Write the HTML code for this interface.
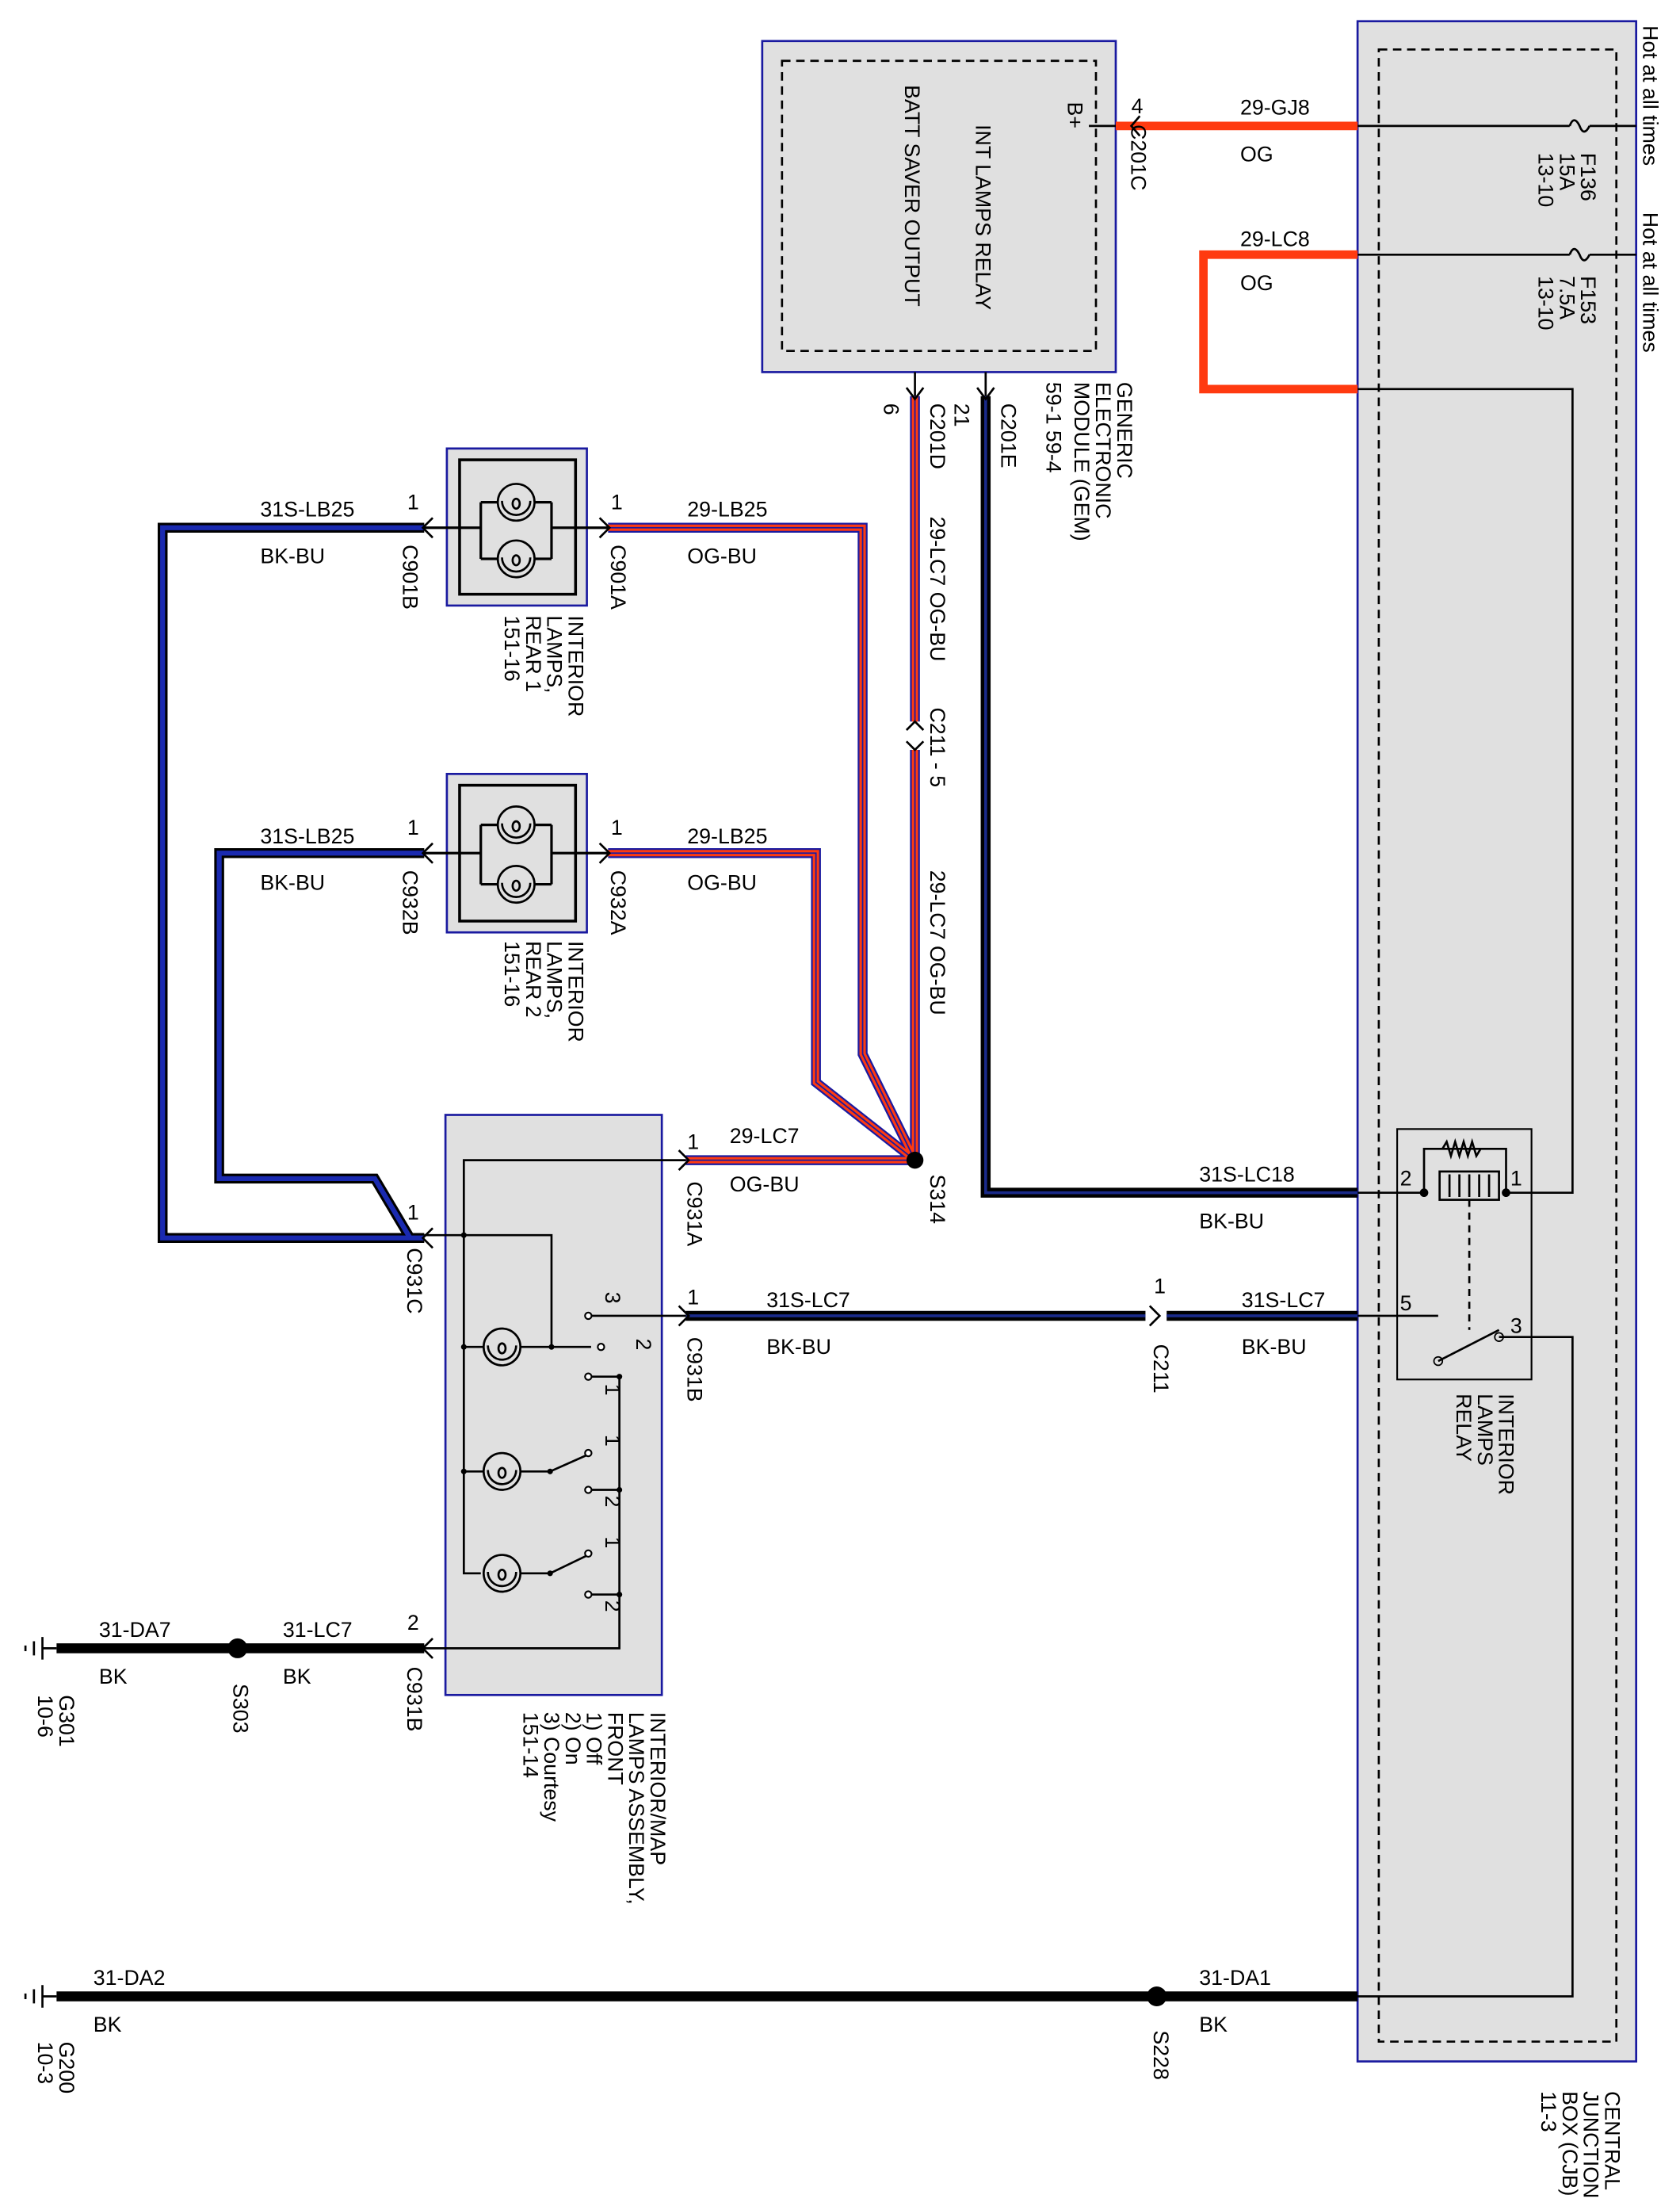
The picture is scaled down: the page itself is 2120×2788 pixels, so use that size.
<!DOCTYPE html>
<html><head><meta charset="utf-8"><style>
html,body{margin:0;padding:0;background:#fff}
svg{display:block}
text{font-family:"Liberation Sans",sans-serif;font-size:15px;fill:#000}
</style></head><body>
<svg width="2120" height="2788" viewBox="0 0 1188 1562" preserveAspectRatio="none" xmlns="http://www.w3.org/2000/svg">
<defs>
<g id="bulb" fill="none" stroke="#000" stroke-width="1.5">
<circle cx="0" cy="0" r="13"/>
<path d="M-10 -1 A10 10 0 0 0 10 -1"/>
<ellipse cx="0" cy="1" rx="2.5" ry="3.5"/>
</g>
</defs>
<!-- CJB -->
<rect x="960" y="15" width="197" height="1442" fill="#e0e0e0" stroke="#1a1aa0" stroke-width="1.5"/>
<rect x="975" y="35" width="168" height="1408" fill="none" stroke="#000" stroke-width="1.5" stroke-dasharray="6,4"/>
<!-- GEM -->
<rect x="539" y="29" width="250" height="234" fill="#e0e0e0" stroke="#1a1aa0" stroke-width="1.5"/>
<rect x="553" y="43" width="222" height="205" fill="none" stroke="#000" stroke-width="1.5" stroke-dasharray="6,4"/>
<text transform="translate(690,88) rotate(90)" font-size="16">INT LAMPS RELAY</text>
<text transform="translate(640,60) rotate(90)" font-size="16">BATT SAVER OUTPUT</text>
<text transform="translate(755,72) rotate(90)">B+</text>

<!-- thin lines inside CJB -->
<g stroke="#000" stroke-width="1.5" fill="none">
<path d="M960 89 H1110 M1124 89 H1157"/>
<path d="M1110 89 q3 -8 7 0 q3 8 7 0"/>
<path d="M960 180 H1110 M1124 180 H1157"/>
<path d="M1110 180 q3 -8 7 0 q3 8 7 0"/>
<path d="M960 275 H1112 V843 H1065"/>
<path d="M960 1411 H1112 V945 H1072"/>
<path d="M770 89 H800 M697 263 V280 M647 263 V280"/>
</g>
<!-- fuse labels -->
<text transform="translate(1118,108) rotate(90)">F136</text>
<text transform="translate(1103,108) rotate(90)">15A</text>
<text transform="translate(1088,108) rotate(90)">13-10</text>
<text transform="translate(1118,195) rotate(90)">F153</text>
<text transform="translate(1103,195) rotate(90)">7.5A</text>
<text transform="translate(1088,195) rotate(90)">13-10</text>
<text transform="translate(1162,18) rotate(90)">Hot at all times</text>
<text transform="translate(1162,150) rotate(90)">Hot at all times</text>
<text transform="translate(1135,1478) rotate(90)">CENTRAL</text>
<text transform="translate(1120,1478) rotate(90)">JUNCTION</text>
<text transform="translate(1105,1478) rotate(90)">BOX (CJB)</text>
<text transform="translate(1090,1478) rotate(90)">11-3</text>

<!-- Relay -->
<rect x="988" y="798" width="95" height="177" fill="none" stroke="#000" stroke-width="1.2"/>
<g stroke="#000" stroke-width="1.5" fill="none">
<path d="M960 843 H1007 M1007 843 V812 H1065 V843"/>
<path d="M1020 812 l3 -5 l3 10 l3 -10 l3 10 l3 -10 l3 10 l3 -10 l3 10 l3 -5"/>
<rect x="1018" y="828" width="42" height="20"/>
<path d="M1025 830 V846 M1032 830 V846 M1039 830 V846 M1046 830 V846 M1053 830 V846"/>
<path d="M1039 848 V940" stroke-dasharray="5,4"/>
<path d="M960 930 H1017 M1017 962 L1060 940 M1060 945 H1072"/>
</g>
<circle cx="1007" cy="843" r="3"/><circle cx="1065" cy="843" r="3"/>
<circle cx="1017" cy="962" r="3" fill="none" stroke="#000"/><circle cx="1060" cy="945" r="3" fill="none" stroke="#000"/>
<text x="990" y="838">2</text><text x="1068" y="838">1</text><text x="990" y="926">5</text><text x="1068" y="942">3</text>
<text transform="translate(1060,985) rotate(90)">INTERIOR</text>
<text transform="translate(1045,985) rotate(90)">LAMPS</text>
<text transform="translate(1030,985) rotate(90)">RELAY</text>

<!-- wires -->
<g fill="none" stroke-linejoin="miter">
<path d="M789 89 H960" stroke="#ff3a10" stroke-width="6"/>
<path d="M960 180 H851 V275 H960" stroke="#ff3a10" stroke-width="6"/>
<path d="M697 280 V843 H960" stroke="#000" stroke-width="7"/>
<path d="M697 280 V843 H960" stroke="#1a2a8a" stroke-width="2"/>
<path d="M647 280 V510 M647 530 V820 M430 373 H610 V745 L647 820 M430 603 H577 V765 L647 820 M485 820 H647" stroke="#1a1aa0" stroke-width="7"/>
<path d="M647 280 V510 M647 530 V820 M430 373 H610 V745 L647 820 M430 603 H577 V765 L647 820 M485 820 H647" stroke="#ff3a10" stroke-width="4.5"/>
<path d="M647 280 V510 M647 530 V820 M430 373 H610 V745 L647 820 M430 603 H577 V765 L647 820 M485 820 H647" stroke="#1a1aa0" stroke-width="1"/>
<path d="M300 373 H115 V875 H300 M300 603 H155 V833 H265 L290 875" stroke="#000" stroke-width="7"/>
<path d="M300 373 H115 V875 H300 M300 603 H155 V833 H265 L290 875" stroke="#1a2ab0" stroke-width="3.5"/>
<path d="M485 930 H810 M825 930 H960" stroke="#000" stroke-width="7"/>
<path d="M485 930 H810 M825 930 H960" stroke="#1a2a8a" stroke-width="2"/>
<path d="M300 1165 H40 M40 1411 H960" stroke="#000" stroke-width="7"/>
</g>
<circle cx="647" cy="820" r="6"/>
<circle cx="168" cy="1165" r="7"/>
<circle cx="818" cy="1411" r="7"/>
<g stroke="#000" stroke-width="1.5"><path d="M30 1157 V1173 M24 1160 V1170 M18 1163 V1167 M30 1165 H40"/>
<path d="M30 1403 V1419 M24 1406 V1416 M18 1409 V1413 M30 1411 H40"/></g>

<!-- arrows -->
<g stroke="#000" stroke-width="1.5" fill="none">
<path d="M806 82 L800 89 L806 96"/>
<path d="M641 274 L647 282 L653 274 M691 274 L697 282 L703 274"/>
<path d="M641 516 L647 510 L653 516 M641 524 L647 530 L653 524"/>
<path d="M424 366 L431 373 L424 380 M424 596 L431 603 L424 610"/>
<path d="M306 366 L299 373 L306 380 M306 596 L299 603 L306 610"/>
<path d="M480 813 L487 820 L480 827 M480 923 L487 930 L480 937"/>
<path d="M306 868 L299 875 L306 882 M306 1158 L299 1165 L306 1172"/>
<path d="M813 923 L820 930 L813 937"/>
</g>

<!-- lamp boxes -->
<rect x="316" y="317" width="99" height="111" fill="#e0e0e0" stroke="#1a1aa0" stroke-width="1.5"/>
<rect x="325" y="325" width="82" height="95" fill="none" stroke="#000" stroke-width="2"/>
<rect x="316" y="547" width="99" height="112" fill="#e0e0e0" stroke="#1a1aa0" stroke-width="1.5"/>
<rect x="325" y="555" width="82" height="96" fill="none" stroke="#000" stroke-width="2"/>
<g stroke="#000" stroke-width="1.8" fill="none">
<path d="M300 373 H340 M340 355 V395 M390 355 V395 M390 373 H430 M340 355 H390 M340 395 H390"/>
<path d="M300 603 H340 M340 583 V625 M390 583 V625 M390 603 H430 M340 583 H390 M340 625 H390"/>
</g>
<g fill="#e0e0e0"><circle cx="365" cy="355" r="13"/><circle cx="365" cy="395" r="13"/><circle cx="365" cy="583" r="13"/><circle cx="365" cy="625" r="13"/></g>
<use href="#bulb" x="365" y="355"/><use href="#bulb" x="365" y="395"/>
<use href="#bulb" x="365" y="583"/><use href="#bulb" x="365" y="625"/>

<!-- front assembly -->
<rect x="315" y="788" width="153" height="410" fill="#e0e0e0" stroke="#1a1aa0" stroke-width="1.5"/>
<g stroke="#000" stroke-width="1.5" fill="none">
<path d="M485 820 H328 V1112 H340 M300 873 H390 V952 M328 952 H342 M368 952 H418 M328 1040 H342 M368 1040 H389 L416 1028 M368 1112 H389 L416 1099"/>
<path d="M418 930 H485 M418 973 H438 V1165 H300 M418 1053 H438 M418 1127 H438"/>
</g>
<g><circle cx="328" cy="952" r="2"/><circle cx="328" cy="1040" r="2"/><circle cx="390" cy="952" r="2"/><circle cx="389" cy="1040" r="2"/><circle cx="389" cy="1112" r="2"/><circle cx="438" cy="973" r="2"/><circle cx="438" cy="1053" r="2"/><circle cx="438" cy="1127" r="2"/><circle cx="328" cy="873" r="2"/></g>
<g fill="#e0e0e0"><circle cx="355" cy="952" r="13"/><circle cx="355" cy="1040" r="13"/><circle cx="355" cy="1112" r="13"/></g>
<use href="#bulb" x="355" y="952"/><use href="#bulb" x="355" y="1040"/><use href="#bulb" x="355" y="1112"/>
<g fill="#fff" stroke="#000" stroke-width="1.2"><circle cx="416" cy="930" r="2.3"/><circle cx="425" cy="952" r="2.3"/><circle cx="416" cy="973" r="2.3"/><circle cx="416" cy="1027" r="2.3"/><circle cx="416" cy="1053" r="2.3"/><circle cx="416" cy="1098" r="2.3"/><circle cx="416" cy="1127" r="2.3"/></g>
<text transform="translate(428,913) rotate(90)">3</text>
<text transform="translate(450,946) rotate(90)">2</text>
<text transform="translate(428,978) rotate(90)">1</text>
<text transform="translate(428,1014) rotate(90)">1</text>
<text transform="translate(428,1057) rotate(90)">2</text>
<text transform="translate(428,1086) rotate(90)">1</text>
<text transform="translate(428,1131) rotate(90)">2</text>

<!-- wire labels -->
<text x="877" y="81">29-GJ8</text><text x="877" y="114">OG</text>
<text x="877" y="174">29-LC8</text><text x="877" y="205">OG</text>
<text x="848" y="835">31S-LC18</text><text x="848" y="868">BK-BU</text>
<text x="878" y="924">31S-LC7</text><text x="878" y="957">BK-BU</text>
<text x="542" y="924">31S-LC7</text><text x="542" y="957">BK-BU</text>
<text x="486" y="365">29-LB25</text><text x="486" y="398">OG-BU</text>
<text x="486" y="596">29-LB25</text><text x="486" y="629">OG-BU</text>
<text x="516" y="808">29-LC7</text><text x="516" y="842">OG-BU</text>
<text x="184" y="365">31S-LB25</text><text x="184" y="398">BK-BU</text>
<text x="184" y="596">31S-LB25</text><text x="184" y="629">BK-BU</text>
<text x="70" y="1157">31-DA7</text><text x="70" y="1190">BK</text>
<text x="200" y="1157">31-LC7</text><text x="200" y="1190">BK</text>
<text x="66" y="1403">31-DA2</text><text x="66" y="1436">BK</text>
<text x="848" y="1403">31-DA1</text><text x="848" y="1436">BK</text>
<text x="800" y="80">4</text><text x="288" y="360">1</text><text x="432" y="360">1</text>
<text x="288" y="590">1</text><text x="432" y="590">1</text><text x="486" y="812">1</text>
<text x="288" y="862">1</text><text x="486" y="922">1</text><text x="816" y="914">1</text><text x="288" y="1152">2</text>
<text transform="translate(800,88) rotate(90)">C201C</text>
<text transform="translate(675,285) rotate(90)">21</text>
<text transform="translate(658,285) rotate(90)">C201D</text>
<text transform="translate(625,285) rotate(90)">6</text>
<text transform="translate(708,285) rotate(90)">C201E</text>
<text transform="translate(658,365) rotate(90)">29-LC7  OG-BU</text>
<text transform="translate(658,500) rotate(90)">C211 - 5</text>
<text transform="translate(658,615) rotate(90)">29-LC7  OG-BU</text>
<text transform="translate(658,830) rotate(90)">S314</text>
<text transform="translate(790,270) rotate(90)">GENERIC</text>
<text transform="translate(775,270) rotate(90)">ELECTRONIC</text>
<text transform="translate(760,270) rotate(90)">MODULE (GEM)</text>
<text transform="translate(740,270) rotate(90)">59-1   59-4</text>
<text transform="translate(432,385) rotate(90)">C901A</text>
<text transform="translate(285,385) rotate(90)">C901B</text>
<text transform="translate(402,435) rotate(90)">INTERIOR</text>
<text transform="translate(387,435) rotate(90)">LAMPS,</text>
<text transform="translate(372,435) rotate(90)">REAR 1</text>
<text transform="translate(357,435) rotate(90)">151-16</text>
<text transform="translate(432,615) rotate(90)">C932A</text>
<text transform="translate(285,615) rotate(90)">C932B</text>
<text transform="translate(402,665) rotate(90)">INTERIOR</text>
<text transform="translate(387,665) rotate(90)">LAMPS,</text>
<text transform="translate(372,665) rotate(90)">REAR 2</text>
<text transform="translate(357,665) rotate(90)">151-16</text>
<text transform="translate(486,835) rotate(90)">C931A</text>
<text transform="translate(288,882) rotate(90)">C931C</text>
<text transform="translate(486,945) rotate(90)">C931B</text>
<text transform="translate(816,950) rotate(90)">C211</text>
<text transform="translate(288,1178) rotate(90)">C931B</text>
<text transform="translate(165,1190) rotate(90)">S303</text>
<text transform="translate(816,1435) rotate(90)">S228</text>
<text transform="translate(42,1198) rotate(90)">G301</text>
<text transform="translate(27,1198) rotate(90)">10-6</text>
<text transform="translate(42,1443) rotate(90)">G200</text>
<text transform="translate(27,1443) rotate(90)">10-3</text>
<text transform="translate(460,1210) rotate(90)">INTERIOR/MAP</text>
<text transform="translate(445,1210) rotate(90)">LAMPS ASSEMBLY,</text>
<text transform="translate(430,1210) rotate(90)">FRONT</text>
<text transform="translate(415,1210) rotate(90)">1) Off</text>
<text transform="translate(400,1210) rotate(90)">2) On</text>
<text transform="translate(385,1210) rotate(90)">3) Courtesy</text>
<text transform="translate(370,1210) rotate(90)">151-14</text>
</svg>
</body></html>
